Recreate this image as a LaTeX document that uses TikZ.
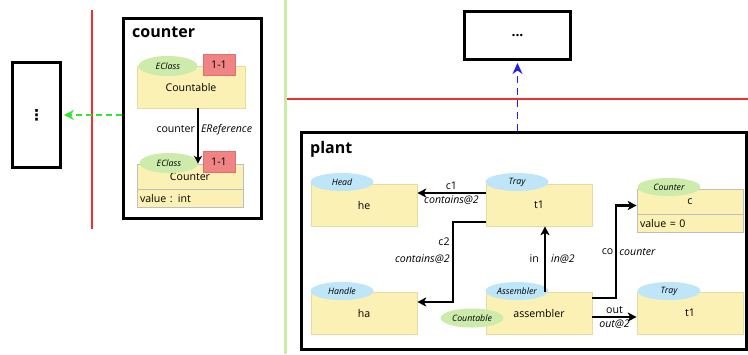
\documentclass[tikz,border=0pt]{standalone}
\usepackage{fontspec}
\setmainfont{Open Sans}
\newfontfamily\symfont{DejaVu Sans}
\usetikzlibrary{arrows.meta,shapes.geometric}

\definecolor{boxfill}{HTML}{FBF1B5}
\definecolor{boxline}{HTML}{E6DCA2}
\definecolor{attrline}{HTML}{BEBEBE}
\definecolor{typeblue}{HTML}{BEE6F8}
\definecolor{typegreen}{HTML}{CDEBAA}
\definecolor{multred}{HTML}{F08484}
\definecolor{multline}{HTML}{E07070}
\definecolor{sepred}{HTML}{F03030}
\definecolor{sepgreen}{HTML}{C8EBA5}
\definecolor{deplgreen}{HTML}{33E633}
\definecolor{deplblue}{HTML}{2020F0}

\begin{document}
\begin{tikzpicture}[x=1pt,y=-1pt,
  frame/.style={draw=black,line width=3pt,rectangle,inner sep=0pt,fill=white},
  objbox/.style={rectangle,fill=boxfill,draw=boxline,line width=0.6pt,
    minimum width=106pt,minimum height=42pt,inner sep=0pt,
    font=\fontsize{10.6}{12}\selectfont},
  attrbox/.style={objbox,draw=attrline,minimum height=18pt,text width=100pt,align=left},
  typetag/.style={ellipse,minimum width=63pt,minimum height=18pt,inner sep=0pt,
    font=\fontsize{8.8}{10}\selectfont\itshape},
  bluetag/.style={typetag,fill=typeblue},
  greentag/.style={typetag,fill=typegreen},
  multbox/.style={rectangle,fill=multred,draw=multline,line width=0.5pt,
    minimum width=32pt,minimum height=21pt,inner sep=0pt,
    font=\fontsize{10.6}{12}\selectfont},
  title/.style={anchor=west,inner sep=0pt,font=\fontsize{16}{19}\selectfont\bfseries},
  link/.style={line width=2.2pt,-{Stealth[length=9pt,width=9pt,inset=2.5pt]}},
  lbl/.style={inner sep=2pt,font=\fontsize{10.6}{12}\selectfont},
  ilbl/.style={lbl,font=\fontsize{10.6}{12}\selectfont\itshape},
]
\useasboundingbox (0,0) rectangle (748,354);

% separators between the views
\draw[sepgreen,line width=3pt] (285,0) -- (285,354);
\draw[sepred,line width=1.5pt] (92,10) -- (92,229);
\draw[sepred,line width=1.5pt] (287,99) -- (748,99);

% collapsed neighbour views
\node[frame,minimum width=48pt,minimum height=105pt] (leftbox) at (36.5,115)
  {\symfont\bfseries\fontsize{15}{15}\selectfont ⋮};
\node[frame,minimum width=106pt,minimum height=48pt] (topbox) at (517.5,35.5)
  {\fontsize{14}{14}\selectfont\bfseries ...};

% ---------------- counter package ----------------
\node[frame,minimum width=138pt,minimum height=200pt] (ctrframe) at (192.5,118.5) {};
\node[title] (ctrtitle) at (132,32) {counter};

\node[objbox,minimum width=108pt,text depth=-6pt] (cntbl) at (191,87) {Countable};
\node[greentag,minimum width=59pt,minimum height=20pt] (cntbltag) at (168,66) {EClass};
\node[multbox] (cntblmult) at (219,64.5) {1-1};

\node[objbox,draw=attrline,minimum height=25pt] (ctrhead) at (190,176.5) {Counter};
\node[attrbox,anchor=north] (ctrattr) at (ctrhead.south) {value : int};
\node[greentag,minimum width=59pt,minimum height=20pt] (ctrtag) at (169,163) {EClass};
\node[multbox] (ctrmult) at (219,161.5) {1-1};

\draw[line width=2pt,-{Stealth[length=8pt,width=8pt,inset=2.5pt]}]
  ([xshift=7pt]cntbl.south) -- ([xshift=8pt]ctrhead.north)
  node[pos=0.38,lbl,left] {counter}
  node[pos=0.38,ilbl,right] {EReference};

% ---------------- plant ----------------
\node[frame,minimum width=445pt,minimum height=217pt] (plantframe) at (524,241) {};
\node[title] (planttitle) at (310,149) {plant};

\node[objbox,text depth=-3pt] (he) at (364,205) {he};
\node[bluetag] (hetag) at (342,182) {Head};

\node[objbox,text depth=-3pt] (t1a) at (539,205) {t1};
\node[bluetag] (t1atag) at (517,182) {Tray};

\node[objbox,draw=attrline,minimum height=25pt] (chead) at (690,201.5) {c};
\node[attrbox,anchor=north] (cattr) at (chead.south) {value = 0};
\node[greentag] (ctag) at (669,187) {Counter};

\node[objbox,text depth=-3pt] (ha) at (364,313) {ha};
\node[bluetag] (hatag) at (342,291) {Handle};

\node[objbox,text depth=-3pt] (asm) at (539,313) {assembler};
\node[bluetag] (asmtag) at (517,291) {Assembler};
\node[greentag,minimum height=19pt] (asmrole) at (472,318) {Countable};

\node[objbox,text depth=-3pt] (t1b) at (690,313) {t1};
\node[bluetag] (t1btag) at (669,291) {Tray};

% links between objects
\draw[link] ([yshift=12pt]t1a.west) -- ([yshift=12pt]he.east)
  node[midway,lbl,above] {c1}
  node[midway,ilbl,below] {contains@2};

\draw[link] ([yshift=-17pt]t1a.west) -- ++(-33,0) |- ([yshift=11pt]ha.east)
  node[pos=0.17,lbl,left,align=right,yshift=7pt] {c2}
  node[pos=0.17,ilbl,left,align=right,yshift=-10pt] {contains@2};

\draw[link] ([xshift=6pt]asm.north) -- ([xshift=6pt]t1a.south)
  node[midway,lbl,left,xshift=-3pt] {in}
  node[midway,ilbl,right,xshift=3pt] {in@2};

\draw[link] ([yshift=15pt]asm.east) -- ++(24,0) |- ([yshift=-4pt]chead.west)
  node[pos=0.25,lbl,left] {co}
  node[pos=0.25,ilbl,right] {counter};

\draw[link] ([yshift=-4pt]asm.east) -- ([yshift=-4pt]t1b.west)
  node[midway,lbl,above] {out}
  node[midway,ilbl,below] {out@2};

% dependencies to the neighbour views
\draw[deplgreen,line width=1.3pt,dash pattern=on 6pt off 4pt,
      -{Stealth[length=10pt,width=10pt,inset=3.5pt]},shorten >=2pt]
  (ctrframe.west |- leftbox.east) -- (leftbox.east);
\draw[deplblue,line width=1.5pt,dash pattern=on 7pt off 5pt,
      -{Stealth[length=11pt,width=10pt,inset=3.5pt]},shorten >=2pt]
  (topbox.south |- plantframe.north) -- (topbox.south);
\end{tikzpicture}
\end{document}
